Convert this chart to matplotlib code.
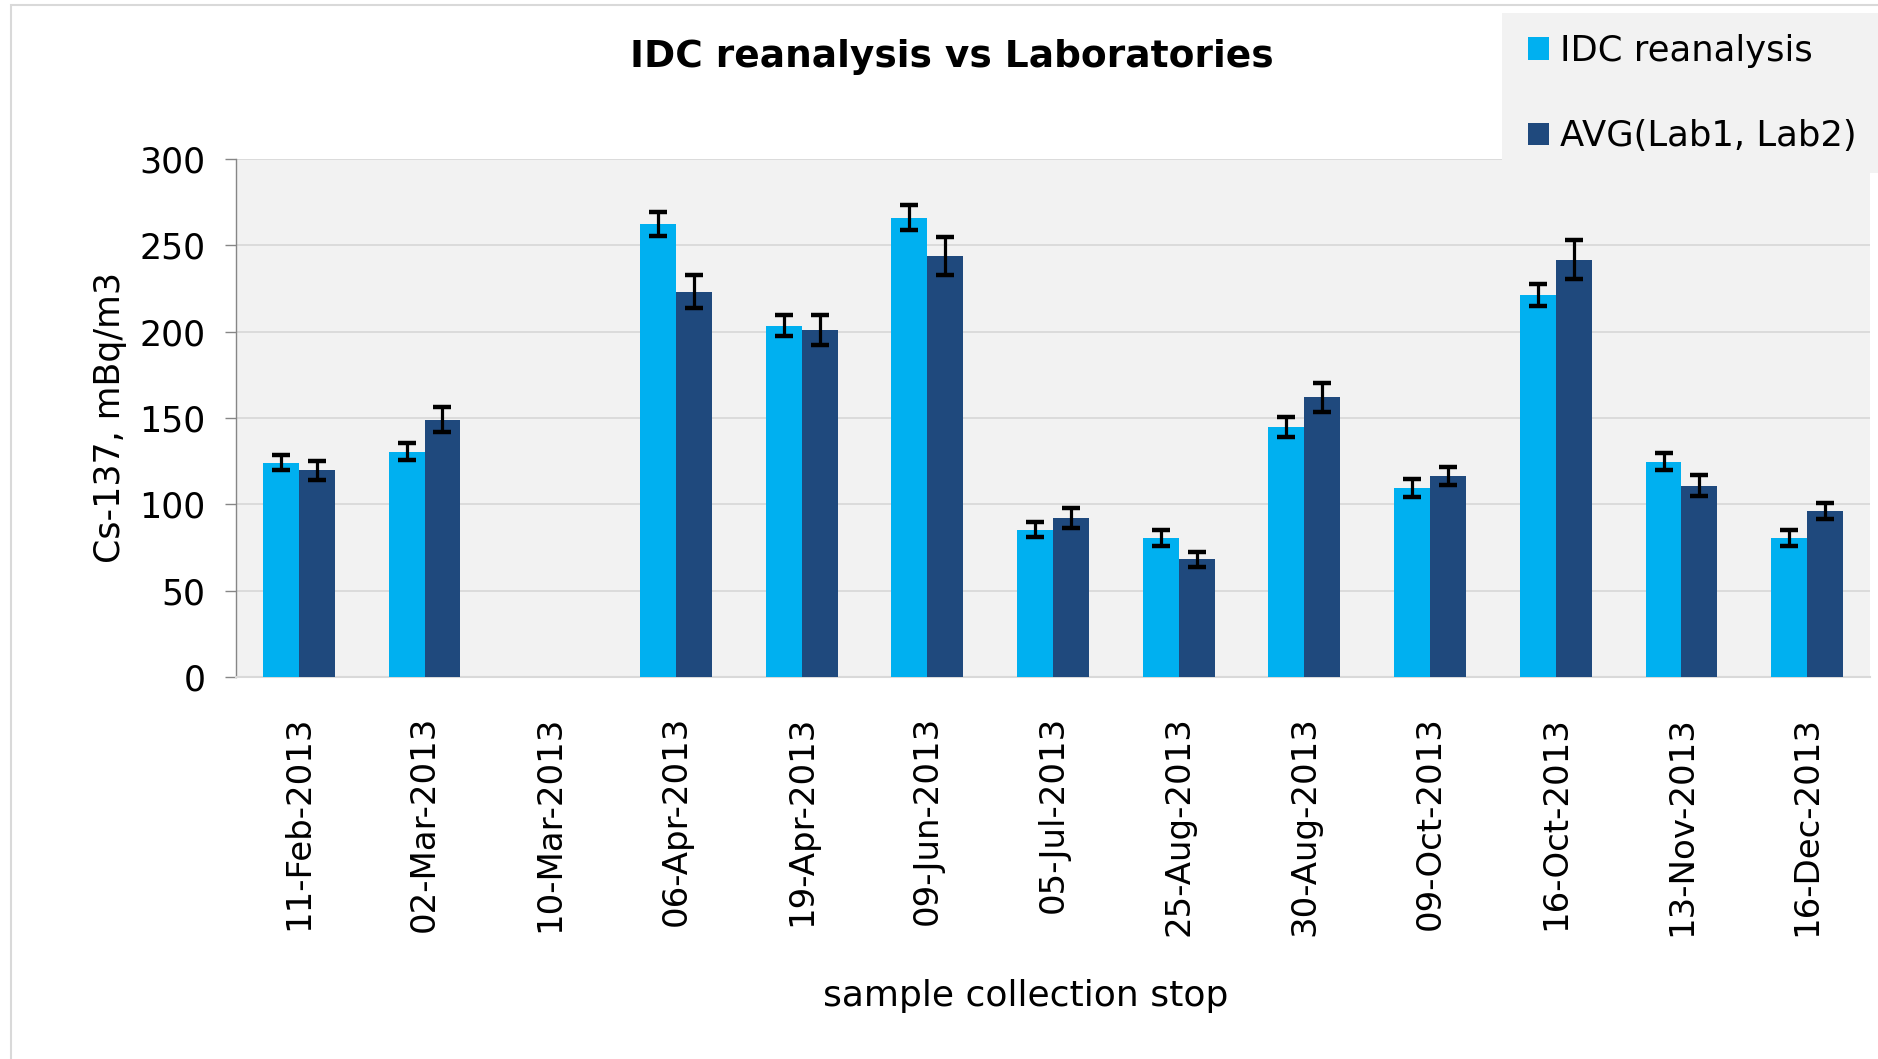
import numpy as np
import matplotlib
matplotlib.use("Agg")
import matplotlib.pyplot as plt
from matplotlib.patches import Rectangle

nan = np.nan
categories = ["11-Feb-2013", "02-Mar-2013", "10-Mar-2013", "06-Apr-2013", "19-Apr-2013",
              "09-Jun-2013", "05-Jul-2013", "25-Aug-2013", "30-Aug-2013", "09-Oct-2013",
              "16-Oct-2013", "13-Nov-2013", "16-Dec-2013"]
idc = [124.2, 130.5, nan, 262.5, 203.4, 266.1, 85.4, 80.5, 144.7, 109.5, 221.1, 124.6, 80.5]
idc_err = [4.2, 4.9, nan, 7.0, 6.1, 7.3, 4.6, 4.6, 5.7, 5.0, 6.5, 5.0, 4.6]
avg = [119.7, 149.1, nan, 223.2, 200.9, 243.7, 92.1, 68.2, 162.0, 116.5, 241.6, 110.9, 96.2]
avg_err = [5.5, 7.3, nan, 9.7, 8.6, 11.1, 5.6, 4.3, 8.5, 5.3, 11.3, 6.2, 4.8]
yticks = [0, 50, 100, 150, 200, 250, 300]

plt.rcParams['font.family'] = ['DejaVu Sans']
W, H = 1878, 1059
fig = plt.figure(figsize=(W / 100, H / 100), dpi=100)

# chart border
fig.add_artist(Rectangle((11 / W, -0.01), 1.0, 1 - 5 / H + 0.01, transform=fig.transFigure,
                         fill=False, edgecolor='#D9D9D9', linewidth=1.5, zorder=0))

ax = fig.add_axes([236 / W, 1 - 677 / H, (1870 - 236) / W, (677 - 159) / H])
ax.set_facecolor('#F2F2F2')

x = np.arange(len(categories))
w = 0.2857
err_kw = dict(ecolor='black', elinewidth=2.3, capsize=6.5, capthick=3.2)
b1 = ax.bar(x - w / 2, idc, w, color='#00B0F0', yerr=idc_err, error_kw=err_kw,
            label='IDC reanalysis', zorder=3)
b2 = ax.bar(x + w / 2, avg, w, color='#1F497D', yerr=avg_err, error_kw=err_kw,
            label='AVG(Lab1, Lab2)', zorder=3)

ax.set_xlim(-0.5, len(categories) - 0.5)
ax.set_ylim(0, 300)
ax.set_yticks(yticks)
ax.set_yticklabels([str(v) for v in yticks], fontsize=25)
ax.set_xticks(x)
ax.set_xticklabels(categories, rotation=90, fontsize=24.5)
ax.tick_params(axis='x', length=0, pad=28)
ax.tick_params(axis='y', length=8, width=1, color='#868686', pad=14)
ax.yaxis.grid(True, color='#D9D9D9', linewidth=1.3, zorder=0)
ax.set_axisbelow(True)
for s in ['top', 'right']:
    ax.spines[s].set_visible(False)
ax.spines['left'].set_color('#868686')
ax.spines['left'].set_linewidth(1)
ax.spines['bottom'].set_color('#D9D9D9')
ax.spines['bottom'].set_linewidth(1.5)

fig.text(110 / W, 1 - 418 / H, 'Cs-137, mBq/m3', rotation=90, fontsize=25,
         ha='center', va='center')
fig.text(1026 / W, 1 - 996 / H, 'sample collection stop', fontsize=26, ha='center', va='center')
fig.text(952 / W, 1 - 57 / H, 'IDC reanalysis vs Laboratories', fontsize=27, fontweight='bold',
         ha='center', va='center')

# legend background
fig.add_artist(Rectangle((1502 / W, 1 - 173 / H), 1.0, (173 - 13) / H, transform=fig.transFigure,
                         facecolor='#F2F2F2', edgecolor='none', zorder=5))
leg = fig.legend(handles=[b1, b2], loc='upper left', bbox_to_anchor=(1528 / W, 1 - 34 / H),
                 frameon=False, fontsize=25.5, handlelength=0.6, handleheight=0.6,
                 handletextpad=0.3, labelspacing=1.45, borderpad=0, borderaxespad=0)
leg.set_zorder(6)

fig.savefig('out.png', dpi=100)
